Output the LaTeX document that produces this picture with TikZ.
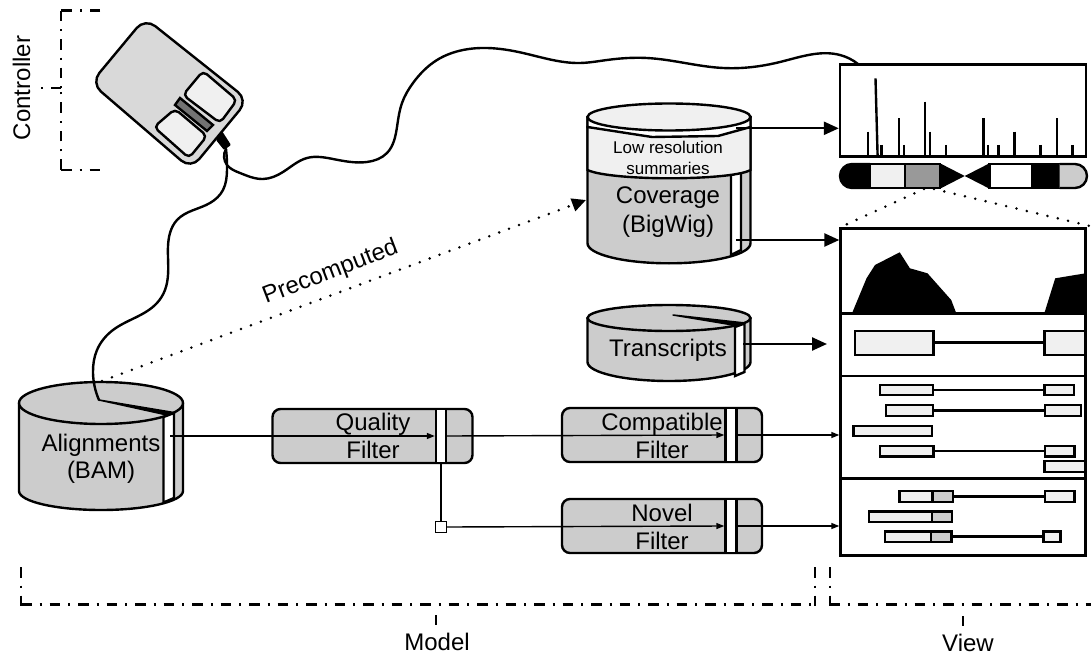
\documentclass[tikz,border=0pt]{standalone}
\usepackage{fontspec}
\setmainfont{Liberation Sans}
\usetikzlibrary{arrows.meta,hobby}
\definecolor{bodygray}{gray}{0.8}
\definecolor{lightfill}{gray}{0.94}
\definecolor{mousegray}{gray}{0.85}
\newcommand{\dbcyl}[7]{% cx, yTop, yBot, rx, ryTop, ryBot, fill
  \filldraw[fill=#7,line width=2.4pt,line join=round] ({#1-#4},#2) -- ({#1-#4},#3)
    .. controls ({#1-#4},{#3+.5523*#6}) and ({#1-.5523*#4},{#3+#6}) .. (#1,{#3+#6})
    .. controls ({#1+.5523*#4},{#3+#6}) and ({#1+#4},{#3+.5523*#6}) .. ({#1+#4},#3)
    -- ({#1+#4},#2) -- cycle;
}
\newcommand{\dbtop}[5]{% cx, y, rx, ry, fill
  \filldraw[fill=#5,line width=2.4pt] ({#1-#3},#2)
    .. controls ({#1-#3},{#2-.5523*#4}) and ({#1-.5523*#3},{#2-#4}) .. (#1,{#2-#4})
    .. controls ({#1+.5523*#3},{#2-#4}) and ({#1+#3},{#2-.5523*#4}) .. ({#1+#3},#2)
    .. controls ({#1+#3},{#2+.5523*#4}) and ({#1+.5523*#3},{#2+#4}) .. (#1,{#2+#4})
    .. controls ({#1-.5523*#3},{#2+#4}) and ({#1-#3},{#2+.5523*#4}) .. ({#1-#3},#2) -- cycle;
}
\tikzset{
  big/.style={font=\fontsize{24}{27}\selectfont,anchor=base,inner sep=0pt},
  small/.style={font=\fontsize{17}{20}\selectfont,anchor=base,inner sep=0pt},
  bracket/.style={line width=2.4pt,dash pattern=on 10.5pt off 8pt on 2pt off 8pt},
  cable/.style={line width=2.4pt,line cap=round},
  thin arrow/.style={line width=1.4pt,-{Triangle[length=8pt,width=6pt]}},
  thick arrow/.style={line width=2.4pt,-{Triangle[length=15pt,width=13pt]}},
  filterbox/.style={draw,line width=2.4pt,fill=bodygray,rounded corners=8pt,minimum width=200pt,minimum height=54pt,inner sep=0pt},
  bandbox/.style={draw,line width=2.4pt,fill=white,minimum width=10pt,minimum height=54pt,inner sep=0pt},
  panel/.style={draw,line width=2.4pt,fill=white,inner sep=0pt},
  spike/.style={line width=2.4pt},
  exon/.style={draw,line width=2.4pt,fill=lightfill},
  exondark/.style={draw,line width=2.4pt,fill=bodygray},
  intron/.style={line width=2.4pt},
  dots/.style={line width=2.8pt,line cap=round,dash pattern=on 0pt off 10.6pt},
}
\begin{document}
\begin{tikzpicture}[x=1pt,y=-1pt]
\useasboundingbox (0,0) rectangle (1091,655);
% ---------- named ends
\coordinate (alignOut) at (170,436);
\coordinate (alignDot) at (102,381);
\coordinate (wedgeA) at (99,400);
\coordinate (plug) at (226,149);
\coordinate (viewJack) at (858,64);
\coordinate (covTopOut) at (736,128.3);
\coordinate (covOut) at (736,240);
\coordinate (trOut) at (743,344);
\coordinate (trEnd) at (827,344);
\coordinate (covDot) at (586,200);
\coordinate (zoomA) at (924,189);
\coordinate (zoomB) at (934,189);
\coordinate (zoomC) at (843,226);
\coordinate (zoomD) at (1090,226);
% ---------- brackets
\draw[bracket] (100,10.7) -- (61,10.7);
\draw[bracket] (61,10.7) -- (61,88);
\draw[bracket] (61,170) -- (61,88);
\draw[bracket] (61,170) -- (100,170);
\draw[bracket] (61,88) -- (41,88);
\node[big,rotate=90] (controller) at (30,88) {Controller};
\draw[bracket] (21,567) -- (21,605.5);
\draw[bracket] (21,604.5) -- (815,604.5);
\draw[bracket] (815,567) -- (815,605.5);
\draw[bracket] (830,567) -- (830,605.5);
\draw[bracket] (829,604.5) -- (1091,604.5);
\draw[line width=2.4pt] (436,615) -- (436,625);
\draw[line width=2.4pt] (963,616) -- (963,626);
\node[big] (model) at (437,650.5) {Model};
\node[big] (view) at (968,651) {View};
% ---------- mouse
\filldraw[fill=mousegray,line width=2.4pt,rounded corners=13pt] (145,18) -- (248,100) -- (191,169) -- (91,83) -- cycle;
\filldraw[fill=lightfill,line width=2.4pt,rounded corners=5pt] (203,71) -- (237,100) -- (220,123) -- (183,95) -- cycle;
\filldraw[fill=lightfill,line width=2.4pt,rounded corners=5pt] (175,109) -- (207,136) -- (189,158) -- (154,127) -- cycle;
\filldraw[fill=black!55,line width=2.4pt] (180,98) -- (213,125) -- (207,131) -- (175,105) -- cycle;
\fill[black,rounded corners=1pt] (222,131) -- (231,145) -- (224,150) -- (216,140) -- cycle;
% ---------- cables
\draw[cable,use Hobby shortcut] (plug) .. (227,165) .. (240,173) .. (263,179) .. (283,172) .. (307,158) .. (333,159) .. (367,162) .. (387,153) .. (397,127) .. (402,103) .. (413,83) .. (437,60) .. (463,50) .. (487,48) .. (523,53) .. (580,63) .. (607,60) .. (647,58) .. (723,68) .. (780,62) .. (840,55) .. (viewJack);
% ---------- alignments
\dbcyl{101}{403}{491}{82}{21}{19}{bodygray}
\dbtop{101}{403}{82}{21}{bodygray}
\filldraw[fill=white,line width=2.4pt] (163.5,417) -- (174,413) -- (174,498) -- (163.5,502.5) -- cycle;
\node[big] (alignA) at (101,451) {Alignments};
\node[big] (alignB) at (101,478) {(BAM)};
\draw[cable,use Hobby shortcut] (plug) .. (227,170) .. (223,190) .. (210,203) .. (177,220) .. (170,233) .. (168,257) .. (165,290) .. (157,303) .. (113,330) .. (97,350) .. (93,373) .. (wedgeA);
\filldraw[line width=1.5pt,line join=round] (wedgeA) -- (175,412.7) -- (167,415) -- cycle;
% ---------- coverage
\dbcyl{669}{116.7}{243.3}{81.5}{14}{20}{bodygray}
\filldraw[fill=white,line width=2.4pt] (731,175) -- (741,172) -- (741,250) -- (731,255) -- cycle;
\filldraw[fill=lightfill,line width=2.4pt] (587.5,127) -- (587.5,170)
   .. controls (600,176) and (640,178.3) .. (669,178.3)
   .. controls (700,178.3) and (740,176) .. (750.5,170) -- (750.5,127) -- cycle;
\filldraw[fill=white,line width=2.4pt] (587.5,117) -- (587.5,127) -- (652,137) -- (718,136) -- (750.5,127) -- (750.5,117) -- cycle;
\dbtop{669}{117}{81.5}{13.5}{lightfill}
\node[small] (lowA) at (668,154) {Low resolution};
\node[small] (lowB) at (668,175) {summaries};
\node[big] (covA) at (668,203) {Coverage};
\node[big] (covB) at (668,232) {(BigWig)};
% ---------- transcripts
\dbcyl{669}{318}{362}{81.5}{13}{19}{bodygray}
\dbtop{669}{318}{81.5}{13}{bodygray}
\filldraw[fill=white,line width=2.4pt] (735,327) -- (744.5,323.5) -- (744.5,372) -- (735,376) -- cycle;
\filldraw[line width=1.5pt,line join=round] (673,315) -- (745,323) -- (733,325) -- cycle;
\node[big] (trans) at (668,356.7) {Transcripts};
% ---------- filters
\node[filterbox] (qual) at (372.5,436) {};
\node[big] (qualA) at (373,430) {Quality};
\node[big] (qualB) at (373,458) {Filter};
\node[bandbox] (qualBand) at (441,436) {};
\node[filterbox] (comp) at (662,435) {};
\node[big] (compA) at (662,430) {Compatible};
\node[big] (compB) at (662,458) {Filter};
\node[bandbox,minimum width=11pt] (compBand) at (731,435) {};
\node[filterbox] (novel) at (662,526) {};
\node[big] (novelA) at (662,521) {Novel};
\node[big] (novelB) at (662,549) {Filter};
\node[bandbox,minimum width=11pt] (novelBand) at (731,526) {};
% ---------- panels
\node[panel,minimum width=246pt,minimum height=92pt] (pTop) at (963,110.7) {};
\node[panel,minimum width=245pt,minimum height=85pt] (pCov) at (963,271) {};
\node[panel,minimum width=245pt,minimum height=63pt] (pTr) at (963,345) {};
\node[panel,minimum width=245pt,minimum height=102pt] (pRead) at (963,427) {};
\node[panel,minimum width=245pt,minimum height=77pt] (pNov) at (963,517) {};
% spikes
\draw[spike] (868,131.7) -- (868,156);
\draw[spike] (875.5,78.3) -- (877.6,156);
\draw[spike] (881.4,145) -- (881.4,156);
\draw[spike] (898.7,118.3) -- (898.7,156);
\draw[spike] (903.8,145) -- (903.8,156);
\draw[spike] (925,101.7) -- (925,156);
\draw[spike] (930.2,131.7) -- (930.2,156);
\draw[spike] (946,145) -- (946,156);
\draw[spike] (983.4,118.3) -- (983.4,156);
\draw[spike] (988,145) -- (988,156);
\draw[spike] (998.3,145) -- (998.3,156);
\draw[spike] (1014.5,131.7) -- (1014.5,156);
\draw[spike] (1040.3,145) -- (1040.3,156);
\draw[spike] (1056.9,118.3) -- (1056.9,156);
\draw[spike] (1072.4,145) -- (1072.4,156);
% ideogram
\filldraw[line width=2.4pt,rounded corners=12pt] (870,164) -- (840,164) -- (840,188) -- (870,188);
\filldraw[fill=lightfill,line width=2.4pt] (870,164) rectangle (905,188);
\filldraw[fill=black!40,line width=2.4pt] (905,164) rectangle (940,188);
\fill (940,163.3) -- (964.7,176) -- (940,188.7) -- cycle;
\fill (989.5,163.3) -- (964.7,176) -- (989.5,188.7) -- cycle;
\filldraw[fill=white,line width=2.4pt] (989.5,164) rectangle (1032.5,188);
\fill (1032.5,163) rectangle (1059.6,189);
\filldraw[fill=bodygray,line width=2.4pt,rounded corners=12pt] (1059.6,164) -- (1087,164) -- (1087,188) -- (1059.6,188);
% coverage peaks
\fill (852,313.3) -- (866.5,278.3) -- (875,265) -- (899.7,252.3) -- (909.9,268.3) -- (927.5,273.3) -- (951.2,300) -- (956.3,313.3) -- cycle;
\fill (1044.3,313.3) -- (1055.2,278.3) -- (1085.5,273.3) -- (1085.5,313.3) -- cycle;
% transcript gene
\draw[intron] (933.6,342.3) -- (1044.3,342.3);
\draw[exon] (854.7,330.7) rectangle (933.6,354.7);
\draw[exon] (1044.3,330.7) rectangle (1085.5,354.7);
% compatible reads
\draw[intron] (932.7,390) -- (1044.3,390);
\draw[exon] (880,385) rectangle (932.7,395);
\draw[exon] (1044.3,385) rectangle (1073.7,395);
\draw[intron] (932.7,410.3) -- (1045,410.3);
\draw[exon] (886,405) rectangle (932.7,415.7);
\draw[exon] (1045,405) rectangle (1081,415.7);
\draw[exon] (853.3,425.7) rectangle (932,436);
\draw[intron] (933.3,450.7) -- (1045,450.7);
\draw[exon] (880,445.7) rectangle (933.3,456.3);
\draw[exon] (1045,445.7) rectangle (1074.3,456.3);
\draw[exon] (1044.3,461) rectangle (1085,471.7);
% novel reads
\draw[intron] (952.7,496.3) -- (1045,496.3);
\draw[exon] (899.3,491) rectangle (932.3,501.7);
\draw[exondark] (932.3,491) rectangle (952.7,501.7);
\draw[exon] (1045,491) rectangle (1074.3,501.7);
\draw[exon] (869,511.3) rectangle (931.7,522);
\draw[exondark] (931.7,511.3) rectangle (952,522);
\draw[intron] (951.3,536.3) -- (1043.3,536.3);
\draw[exon] (885,531.3) rectangle (931,542);
\draw[exondark] (931,531.3) rectangle (951.3,542);
\draw[exon] (1043.3,531.3) rectangle (1060.3,542);
% ---------- connectors
\node[draw,line width=1.4pt,fill=white,minimum size=10.5pt,inner sep=0pt] (split) at (441,527) {};
\draw[line width=1.4pt] (qualBand.south) -- (split.north);
\draw[thin arrow] (alignOut) -- (qualBand.west);
\draw[thin arrow] (qualBand.east) -- (compBand.west);
\draw[thin arrow] (split.east) -- (novelBand.west);
\draw[thin arrow] (compBand.east) -- (pRead.west |- compBand);
\draw[thin arrow] (novelBand.east) -- (pNov.west |- novelBand);
\draw[thick arrow] (covTopOut) -- (pTop.west |- covTopOut);
\draw[thick arrow] (covOut) -- (pCov.west |- covOut);
\draw[thick arrow] (trOut) -- (trEnd);
\draw[dots,-{Triangle[length=14pt,width=13pt]}] (alignDot) -- (covDot);
\draw[dots] (zoomA) -- (zoomC);
\draw[dots] (zoomB) -- (zoomD);
\node[big,anchor=base west,rotate=21] (pre) at (266,304) {Precomputed};
\end{tikzpicture}
\end{document}
